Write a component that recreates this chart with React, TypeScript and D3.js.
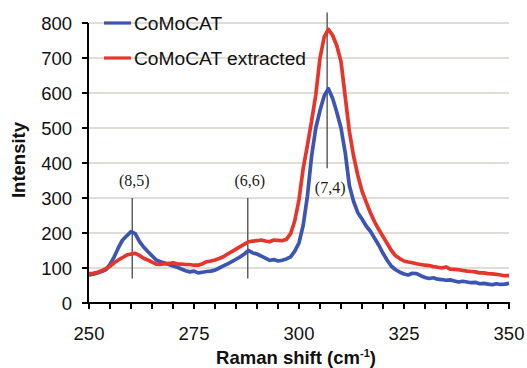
import React from "react";
import * as d3 from "d3";

const ramanShift = d3.range(250, 351);
const comocat = [
  80, 82, 86, 90, 95, 110, 132, 158, 180, 192,
  204, 198, 176, 160, 147, 135, 123, 118, 114, 110,
  106, 102, 97, 92, 89, 91, 86, 88, 90, 91,
  94, 100, 106, 112, 118, 125, 132, 140, 150, 143,
  140, 134, 128, 122, 124, 120, 122, 126, 132, 148,
  172, 222, 305, 420, 500, 550, 592, 612, 585, 545,
  500, 430, 335, 290, 258, 240, 220, 205, 185, 165,
  142, 122, 105, 95, 88, 83, 80, 85, 84, 78,
  73, 70, 72, 68, 67, 65, 66, 63, 60, 62,
  60, 58, 59, 55, 56, 54, 52, 55, 53, 54, 56,
];
const comocatExtracted = [
  84, 85, 88, 92, 98, 105, 115, 123, 130, 137,
  140, 142, 136, 128, 123, 117, 111, 110, 112, 113,
  115, 112, 111, 110, 110, 108, 108, 112, 118, 120,
  123, 127, 132, 140, 147, 154, 161, 168, 175, 177,
  178, 180, 177, 175, 180, 179, 178, 182, 198, 235,
  295, 385, 450, 520, 595, 700, 760, 782, 765, 735,
  690, 590, 490, 420, 365, 320, 288, 258, 232, 210,
  190, 170, 150, 135, 127, 120, 117, 115, 112, 110,
  108, 107, 104, 102, 100, 103, 97, 96, 95, 93,
  91, 90, 89, 86, 86, 84, 83, 82, 80, 78, 78,
];
const seriesNames = ["CoMoCAT", "CoMoCAT extracted"];
const seriesColors = ["#3d55b2", "#e6352b"];
const yTicks = [0, 100, 200, 300, 400, 500, 600, 700, 800];
const xLabelTicks = [250, 275, 300, 325, 350];
const xMinorTicks = d3.range(250, 351, 5);
const markers = [
  { label: "(8,5)", x: 260.3, from: 300, to: 70, labelAt: "above" },
  { label: "(6,6)", x: 287.8, from: 300, to: 70, labelAt: "above" },
  { label: "(7,4)", x: 306.7, from: 830, to: 385, labelAt: "below" },
];

const FONT = "Arial, 'Liberation Sans', sans-serif";

export default function App() {
  const x = d3.scaleLinear().domain([250, 350]).range([89, 509]);
  const y = d3.scaleLinear().domain([0, 800]).range([303, 23]);
  const line = d3
    .line<number>()
    .x((_, i) => x(ramanShift[i]))
    .y((d) => y(d))
    .curve(d3.curveLinear);
  const series = [comocat, comocatExtracted];

  return (
    <svg
      width={527}
      height={368}
      style={{ position: "absolute", left: 0, top: 0, background: "#fff" }}
      fontFamily={FONT}
    >
      {/* grid */}
      {yTicks.filter((t) => t > 0).map((t) => (
        <line key={t} x1={x(250)} x2={x(350)} y1={y(t)} y2={y(t)} stroke="#d8d0c8" strokeWidth={1.3} />
      ))}
      {/* marker lines */}
      {markers.map((m) => (
        <line key={m.label} x1={x(m.x)} x2={x(m.x)} y1={y(m.from)} y2={y(m.to)} stroke="#555" strokeWidth={1.4} />
      ))}
      {/* series */}
      {series.map((s, i) => (
        <path key={i} d={line(s) || ""} fill="none" stroke={seriesColors[i]} strokeWidth={3.7} strokeLinejoin="round" />
      ))}
      {/* marker labels */}
      {markers.map((m) => (
        <text
          key={m.label}
          x={x(m.x) + (m.labelAt === "below" ? 3 : 2)}
          y={m.labelAt === "below" ? 193 : 186}
          textAnchor="middle"
          fontFamily="'Liberation Serif', 'DejaVu Serif', serif"
          fontSize={16}
          fill="#222"
        >
          {m.label}
        </text>
      ))}
      {/* axes */}
      <line x1={88} x2={88} y1={y(800)} y2={y(0) + 1} stroke="#000" strokeWidth={2} />
      <line x1={87} x2={x(350) + 1} y1={y(0)} y2={y(0)} stroke="#000" strokeWidth={2} />
      {yTicks.map((t) => (
        <g key={t}>
          <line x1={82} x2={88} y1={y(t)} y2={y(t)} stroke="#000" strokeWidth={2} />
          <text x={72} y={y(t)} dy="0.36em" textAnchor="end" fontSize={18.5} fill="#111">
            {t}
          </text>
        </g>
      ))}
      {xMinorTicks.map((t) => (
        <line key={t} x1={x(t)} x2={x(t)} y1={y(0)} y2={y(0) + 6} stroke="#000" strokeWidth={2} />
      ))}
      {xLabelTicks.map((t) => (
        <text key={t} x={x(t)} y={340} textAnchor="middle" fontSize={18.5} fill="#111">
          {t}
        </text>
      ))}
      <text x={296} y={364} textAnchor="middle" fontSize={18.5} fontWeight="bold" fill="#111">
        Raman shift (cm
        <tspan fontSize={11} dy={-7}>-1</tspan>
        <tspan dy={7}>)</tspan>
      </text>
      <text
        transform="translate(25,160) rotate(-90)"
        textAnchor="middle"
        fontSize={18.5}
        fontWeight="bold"
        fill="#111"
      >
        Intensity
      </text>
      {/* legend */}
      {seriesNames.map((n, i) => (
        <g key={n}>
          <line x1={104} x2={131} y1={23 + i * 35} y2={23 + i * 35} stroke={seriesColors[i]} strokeWidth={3.2} />
          <text x={134} y={23 + i * 35} dy="0.36em" fontSize={19.2} fill="#111">
            {n}
          </text>
        </g>
      ))}
    </svg>
  );
}
